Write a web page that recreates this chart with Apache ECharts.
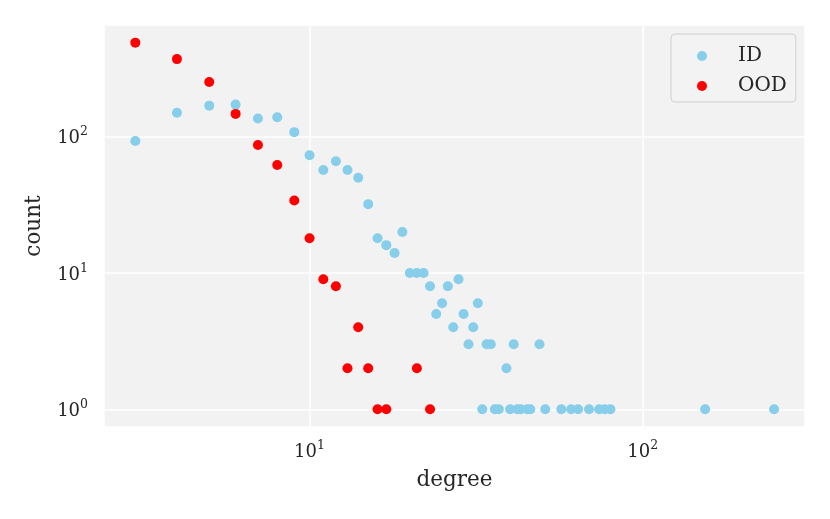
<!DOCTYPE html>
<html>
<head>
<meta charset="utf-8">
<script src="https://cdn.jsdelivr.net/npm/echarts@6/dist/echarts.min.js"></script>
<style>
html,body{margin:0;padding:0;background:#fff;}
#chart{width:830px;height:519px;}
</style>
</head>
<body>
<div id="chart"></div>
<script>
// ID series
var idDegree = [3,4,5,6,7,8,9,10,11,12,13,14,15,16,17,18,19,20,21,22,23,24,25,26,27,28,29,30,31,32,33,34,35,36,37,39,40,41,42,43,45,46,49,51,57,61,64,69,74,77,80,154,248];
var idCount  = [93,150,169,172,136,139,108,73,57,66,57,50,32,18,16,14,20,10,10,10,8,5,6,8,4,9,5,3,4,6,1,3,3,1,1,2,1,3,1,1,1,1,3,1,1,1,1,1,1,1,1,1,1];
// OOD series
var oodDegree = [3,4,5,6,7,8,9,10,11,12,13,14,15,16,17,21,23];
var oodCount  = [490,371,252,147,87,62,34,18,9,8,2,4,2,1,1,2,1];

var seriesNames = ['ID','OOD'];
var xName = 'degree';
var yName = 'count';

function pairs(xs, ys){ return xs.map(function(x,i){ return [x, ys[i]]; }); }

var FONT = 'DejaVu Serif';
var TXT = '#262626';

function powLabel(v){
  var e = Math.log10(v);
  var r = Math.round(e);
  if (Math.abs(e - r) > 1e-6) return '';
  return '{b|10}{s|' + r + '}';
}
var richLab = {
  b: {fontFamily: FONT, fontSize: 18, color: TXT, lineHeight: 22, verticalAlign: 'bottom'},
  s: {fontFamily: FONT, fontSize: 12.5, color: TXT, lineHeight: 22, verticalAlign: 'top', padding:[0,0,6,0]}
};

var chart = echarts.init(document.getElementById('chart'), null, {renderer: 'canvas'});
chart.setOption({
  animation: false,
  backgroundColor: '#ffffff',
  grid: {left: 104, top: 25, right: 25, bottom: 92, show: true, backgroundColor: '#f2f2f2', borderWidth: 0, containLabel: false},
  legend: {
    data: seriesNames,
    orient: 'vertical',
    left: 671, top: 34,
    padding: [12, 9, 6, 26],
    itemWidth: 30, itemHeight: 10, itemGap: 10,
    icon: 'circle',
    backgroundColor: 'rgba(242,242,242,0.8)',
    borderColor: '#d0d0d0', borderWidth: 1, borderRadius: 4,
    textStyle: {fontFamily: FONT, fontSize: 20, color: TXT, lineHeight: 20, padding: [0,0,0,16]}
  },
  xAxis: {
    type: 'log', logBase: 10, min: 2.416, max: 307,
    name: xName, nameLocation: 'middle', nameGap: 42,
    nameTextStyle: {fontFamily: FONT, fontSize: 21.5, color: TXT},
    axisLine: {show: false}, axisTick: {show: false},
    axisLabel: {formatter: powLabel, rich: richLab, margin: 12, showMinLabel: false, showMaxLabel: false},
    splitLine: {show: true, lineStyle: {color: '#ffffff', width: 1.5}},
    minorTick: {show: false}, minorSplitLine: {show: false}
  },
  yAxis: {
    type: 'log', logBase: 10, min: 0.741, max: 660,
    name: yName, nameLocation: 'middle', nameGap: 59,
    nameTextStyle: {fontFamily: FONT, fontSize: 21.5, color: TXT},
    axisLine: {show: false}, axisTick: {show: false},
    axisLabel: {formatter: powLabel, rich: richLab, margin: 16, showMinLabel: false, showMaxLabel: false},
    splitLine: {show: true, lineStyle: {color: '#ffffff', width: 1.5}},
    minorTick: {show: false}, minorSplitLine: {show: false}
  },
  series: [
    {name: seriesNames[0], type: 'scatter', symbolSize: 10, itemStyle: {color: '#87ceeb', opacity: 1}, data: pairs(idDegree, idCount)},
    {name: seriesNames[1], type: 'scatter', symbolSize: 10, itemStyle: {color: '#ff0000', opacity: 1}, data: pairs(oodDegree, oodCount)}
  ]
});
</script>
</body>
</html>
